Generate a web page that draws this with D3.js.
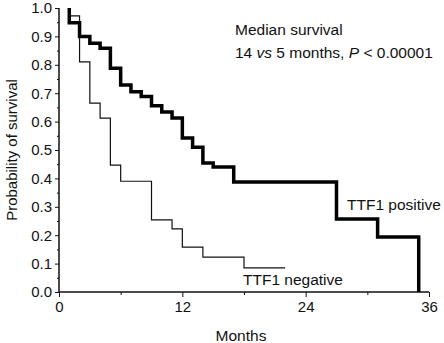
<!DOCTYPE html>
<html>
<head>
<meta charset="utf-8">
<script src="https://cdn.jsdelivr.net/npm/d3@7"></script>
<style>
  body { margin: 0; background: #fff; }
  svg text { font-family: "Liberation Sans", Arial, Helvetica, sans-serif; fill: #111; }
</style>
</head>
<body>
<div id="chart"></div>
<script>
// Kaplan-Meier steps: [month of step, survival after the step]
const positiveTimes = [1, 2, 3, 4, 5, 6, 7, 8, 9, 10, 11, 12, 13, 14, 15, 17, 27, 31, 35];
const positiveSurv = [0.948, 0.90, 0.876, 0.858, 0.788, 0.729, 0.705, 0.688, 0.656, 0.634, 0.613, 0.542, 0.51, 0.454, 0.44, 0.387, 0.257, 0.194, 0.0];
const positiveEnd = 35;

const negativeTimes = [1, 2, 3, 4, 5, 6, 9, 11, 12, 14, 18];
const negativeSurv = [0.972, 0.81, 0.665, 0.612, 0.447, 0.39, 0.254, 0.222, 0.158, 0.123, 0.085];
const negativeEnd = 22;

const xMajorTicks = [0, 12, 24, 36];
const xMinorTicks = [6, 18, 30];
const yMajorTicks = [0, 0.1, 0.2, 0.3, 0.4, 0.5, 0.6, 0.7, 0.8, 0.9, 1.0];
const yMinorTicks = [0.05, 0.15, 0.25, 0.35, 0.45, 0.55, 0.65, 0.75, 0.85, 0.95];

const width = 444, height = 343;
const margin = { left: 59, right: 15, top: 8, bottom: 51 };

const svg = d3.select("#chart").append("svg")
  .attr("width", width)
  .attr("height", height);

const x = d3.scaleLinear().domain([0, 36]).range([margin.left, width - margin.right]);
const y = d3.scaleLinear().domain([0, 1]).range([height - margin.bottom, margin.top]);

// build step path starting at (first time, 1.0)
function stepPoints(times, surv, end) {
  let pts = [[times[0], 1]];
  let prev = 1;
  times.forEach((t, i) => {
    pts.push([t, prev]);
    pts.push([t, surv[i]]);
    prev = surv[i];
  });
  if (end > times[times.length - 1]) pts.push([end, prev]);
  return pts;
}

const line = d3.line().x(d => x(d[0])).y(d => y(d[1]));

// axes
const xAxis = svg.append("g")
  .attr("transform", `translate(0, ${y(0)})`)
  .call(d3.axisBottom(x).tickValues(xMajorTicks).tickSize(5).tickPadding(4).tickFormat(d3.format("d")));
svg.append("g")
  .attr("transform", `translate(0, ${y(0)})`)
  .call(d3.axisBottom(x).tickValues(xMinorTicks).tickSize(3).tickFormat(""))
  .select(".domain").remove();

const yAxis = svg.append("g")
  .attr("transform", `translate(${margin.left}, 0)`)
  .call(d3.axisLeft(y).tickValues(yMajorTicks).tickSize(4).tickPadding(3).tickFormat(d3.format(".1f")));
svg.append("g")
  .attr("transform", `translate(${margin.left}, 0)`)
  .call(d3.axisLeft(y).tickValues(yMinorTicks).tickSize(2).tickFormat(""))
  .select(".domain").remove();

svg.selectAll(".domain").attr("stroke", "#111").attr("stroke-width", 1.5);
svg.selectAll(".tick line").attr("stroke", "#111");
svg.selectAll(".tick text").style("font-size", "15px").attr("fill", "#111");
xAxis.selectAll(".domain").attr("d", `M${x(0)},0H${x(36)}`);
yAxis.selectAll(".domain").attr("d", `M0,${y(0)}V${y(1)}`);

// curves
svg.append("path")
  .datum(stepPoints(negativeTimes, negativeSurv, negativeEnd))
  .attr("d", line)
  .attr("fill", "none")
  .attr("stroke", "#111")
  .attr("stroke-width", 1.2);

svg.append("path")
  .datum(stepPoints(positiveTimes, positiveSurv, positiveEnd))
  .attr("d", line)
  .attr("fill", "none")
  .attr("stroke", "#000")
  .attr("stroke-width", 3.5);

// axis titles
svg.append("text")
  .attr("x", 241).attr("y", 341)
  .attr("text-anchor", "middle")
  .style("font-size", "15.5px")
  .text("Months");

svg.append("text")
  .attr("transform", `translate(17, 150) rotate(-90)`)
  .attr("text-anchor", "middle")
  .style("font-size", "15px")
  .text("Probability of survival");

// annotations
svg.append("text")
  .attr("x", 235).attr("y", 35)
  .style("font-size", "15.5px")
  .text("Median survival");

const t2 = svg.append("text")
  .attr("x", 235).attr("y", 58)
  .style("font-size", "15.5px");
t2.append("tspan").text("14 ");
t2.append("tspan").style("font-style", "italic").text("vs");
t2.append("tspan").text(" 5 months, ");
t2.append("tspan").style("font-style", "italic").text("P");
t2.append("tspan").text(" < 0.00001");

svg.append("text")
  .attr("x", 347).attr("y", 210)
  .style("font-size", "15.5px")
  .text("TTF1 positive");

svg.append("text")
  .attr("x", 243).attr("y", 285)
  .style("font-size", "15.5px")
  .text("TTF1 negative");
</script>
</body>
</html>
